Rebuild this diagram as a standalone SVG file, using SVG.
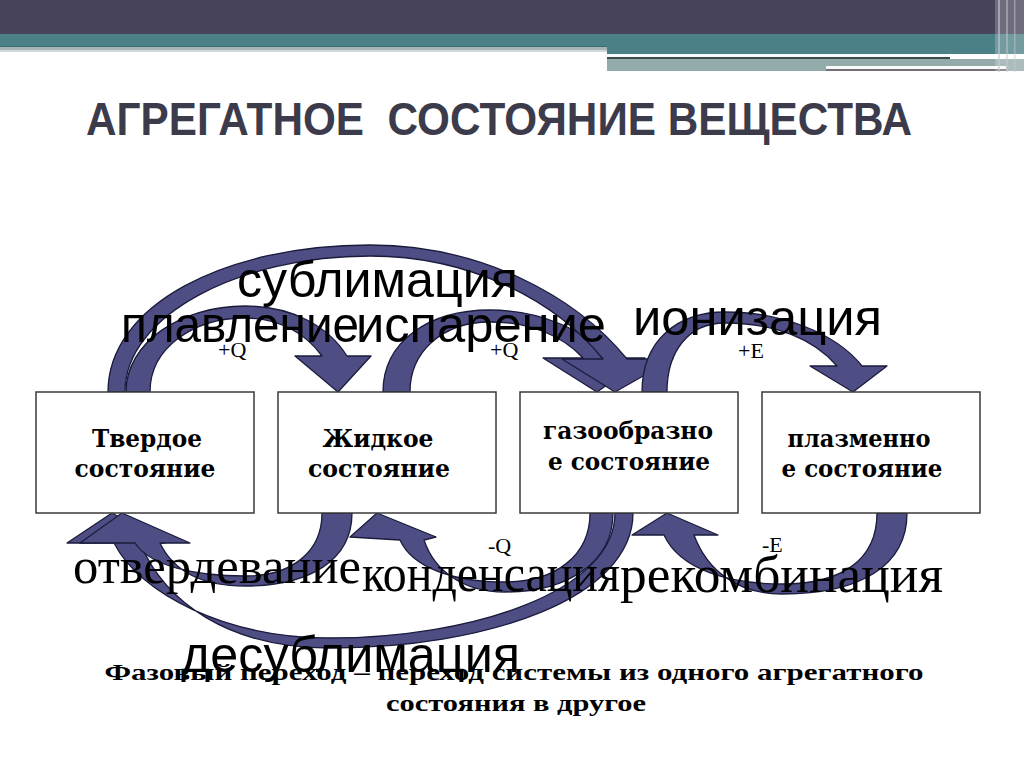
<svg xmlns="http://www.w3.org/2000/svg" width="1024" height="768" viewBox="0 0 1024 768">
<style>
.arr{fill:#4e4e85;stroke:#1b1b3c;stroke-width:1.3;stroke-linejoin:round}
.box{fill:#fff;stroke:#3a3a3a;stroke-width:1.5}
.bt{font-family:"DejaVu Serif","Liberation Serif",serif;font-weight:bold;font-size:24px;fill:#000;text-anchor:middle}
.lbs{font-family:"Liberation Sans",Arial,sans-serif;font-size:50px;fill:#000}
.lbr{font-family:"Liberation Serif","Times New Roman",serif;font-size:50px;fill:#000}
.sm{font-family:"Liberation Serif","Times New Roman",serif;font-size:22px;fill:#000}
.ft{font-family:"Liberation Serif","Times New Roman",serif;font-weight:bold;font-size:24px;fill:#000;text-anchor:middle}
</style>
<rect width="1024" height="768" fill="#fff"/>
<g id="banner">
<rect x="0" y="0" width="1024" height="34" fill="#46435a"/>
<rect x="0" y="34" width="1024" height="13" fill="#4b8186"/>
<rect x="0" y="46" width="607" height="1.5" fill="#3f6d70"/>
<rect x="0" y="47.5" width="607" height="3" fill="#a9b5b6"/>
<rect x="0" y="50.5" width="607" height="1.5" fill="#d3d9d9"/>
<rect x="607" y="47" width="417" height="7" fill="#4b8186"/>
<rect x="607" y="54" width="343" height="3" fill="#f4fbfb"/>
<rect x="607" y="57" width="343" height="2" fill="#3c4a4c"/>
<rect x="607" y="59" width="417" height="12" fill="#93abaa"/>
<rect x="826" y="66" width="180" height="3" fill="#fafafa"/>
<rect x="826" y="69" width="180" height="2" fill="#6f6f75"/>
<rect x="995" y="0" width="29" height="72" fill="#fff" opacity="0.22"/>
<rect x="998" y="0" width="2" height="72" fill="#c8c8d0" opacity="0.6"/>
<rect x="1006" y="0" width="2" height="72" fill="#c8c8d0" opacity="0.5"/>
<rect x="1014" y="0" width="1.5" height="72" fill="#c8c8d0" opacity="0.5"/>
</g>
<text id="title" x="86" y="135" xml:space="preserve" textLength="826" lengthAdjust="spacingAndGlyphs" style="font-family:'Liberation Sans',Arial,sans-serif;font-weight:bold;font-size:47px;fill:#3c3b4c">АГРЕГАТНОЕ  СОСТОЯНИЕ ВЕЩЕСТВА</text>
<g id="connectors">
<path id="plavlenie" class="arr" d="M126,392 C126,343 180,306 245,306 C292,306 328,326 347,356 L371,356 L338,392 L295,356 L322,356 C306,334 280,318 245,318 C193,318 150,348 150,392 Z"/>
<path id="isparenie" class="arr" d="M383,392 C383,342 428,310 490,310 C540,310 585,330 610,358 L645,358 L597,392 L543,358 L583,358 C563,336 530,322 490,322 C442,322 410,352 410,392 Z"/>
<path id="sublimacia" class="arr" d="M108,392 C108,305 225,245 370,245 C480,245 575,295 627,359 L673,359 L615,392 L562,359 L603,359 C555,300 470,256 370,256 C240,256 125,315 125,392 Z"/>
<path id="ionizacia" class="arr" d="M642,392 C642,340 678,312 725,312 C780,312 835,332 862,366 L887,366 L853,392 L810,366 L837,366 C814,339 775,323 725,323 C688,323 667,352 667,392 Z"/>
<path id="desublimacia" class="arr" d="M633,513 C633,598 488,648 330,648 C228,648 165,602 140,543 L165,543 L112,513 L67,543 L114,543 C140,594 226,638 330,638 C470,638 615,592 615,513 Z"/>
<path id="otverdevanie" class="arr" d="M352,513 C352,560 310,586 245,586 C198,586 172,568 160,543 L190,543 L122,513 L80,543 L135,543 C150,566 195,576 245,576 C292,576 322,552 322,513 Z"/>
<path id="kondensacia" class="arr" d="M613,513 C613,562 568,592 505,592 C462,592 434,570 424,540 L436,537 L377,513 L350,537 L400,540 C412,567 452,582 505,582 C555,582 590,556 590,513 Z"/>
<path id="rekombinacia" class="arr" d="M907,513 C907,565 862,594 782,594 C737,594 707,570 694,535 L718,535 L667,513 L632,535 L664,535 C680,570 730,584 782,584 C842,584 877,560 877,513 Z"/>
</g>
<g id="solid">
<rect class="box" x="36" y="392" width="218" height="121"/>
<text class="bt" x="147" y="447" textLength="110" lengthAdjust="spacingAndGlyphs">Твердое</text>
<text class="bt" x="145" y="477" textLength="141" lengthAdjust="spacingAndGlyphs">состояние</text>
</g>
<g id="liquid">
<rect class="box" x="278" y="392" width="218" height="121"/>
<text class="bt" x="378" y="447" textLength="111" lengthAdjust="spacingAndGlyphs">Жидкое</text>
<text class="bt" x="379" y="477" textLength="142" lengthAdjust="spacingAndGlyphs">состояние</text>
</g>
<g id="gas">
<rect class="box" x="520" y="392" width="218" height="121"/>
<text class="bt" x="628" y="439" textLength="170" lengthAdjust="spacingAndGlyphs">газообразно</text>
<text class="bt" x="629" y="470" textLength="162" lengthAdjust="spacingAndGlyphs">е состояние</text>
</g>
<g id="plasma">
<rect class="box" x="762" y="392" width="218" height="121"/>
<text class="bt" x="859" y="447" textLength="143" lengthAdjust="spacingAndGlyphs">плазменно</text>
<text class="bt" x="862" y="477" textLength="161" lengthAdjust="spacingAndGlyphs">е состояние</text>
</g>
<g id="labels">
<text class="lbs" x="237" y="297" textLength="281" lengthAdjust="spacingAndGlyphs">сублимация</text>
<text class="lbs" x="121" y="342" textLength="238" lengthAdjust="spacingAndGlyphs">плавление</text>
<text class="lbs" x="356" y="342" textLength="250" lengthAdjust="spacingAndGlyphs">испарение</text>
<text class="lbs" x="633" y="335" textLength="249" lengthAdjust="spacingAndGlyphs">ионизация</text>
<text class="sm" x="218" y="357">+Q</text>
<text class="sm" x="490" y="357">+Q</text>
<text class="sm" x="738" y="358">+E</text>
<text class="sm" x="488" y="553">-Q</text>
<text class="sm" x="762" y="552">-E</text>
<text class="lbr" x="73" y="583" textLength="288" lengthAdjust="spacingAndGlyphs">отвердевание</text>
<text class="lbr" x="362" y="591" textLength="258" lengthAdjust="spacingAndGlyphs" style="font-size:52px">конденсация</text>
<text class="lbr" x="620" y="592" textLength="323" lengthAdjust="spacingAndGlyphs" style="font-size:52px">рекомбинация</text>
<text class="ft" x="514" y="680" textLength="819" lengthAdjust="spacingAndGlyphs">Фазовый переход – переход системы из одного агрегатного</text>
<text class="ft" x="516" y="711" textLength="260" lengthAdjust="spacingAndGlyphs">состояния в другое</text>
<text class="lbs" x="181" y="672" textLength="339" lengthAdjust="spacingAndGlyphs">десублимация</text>
</g>
</svg>
